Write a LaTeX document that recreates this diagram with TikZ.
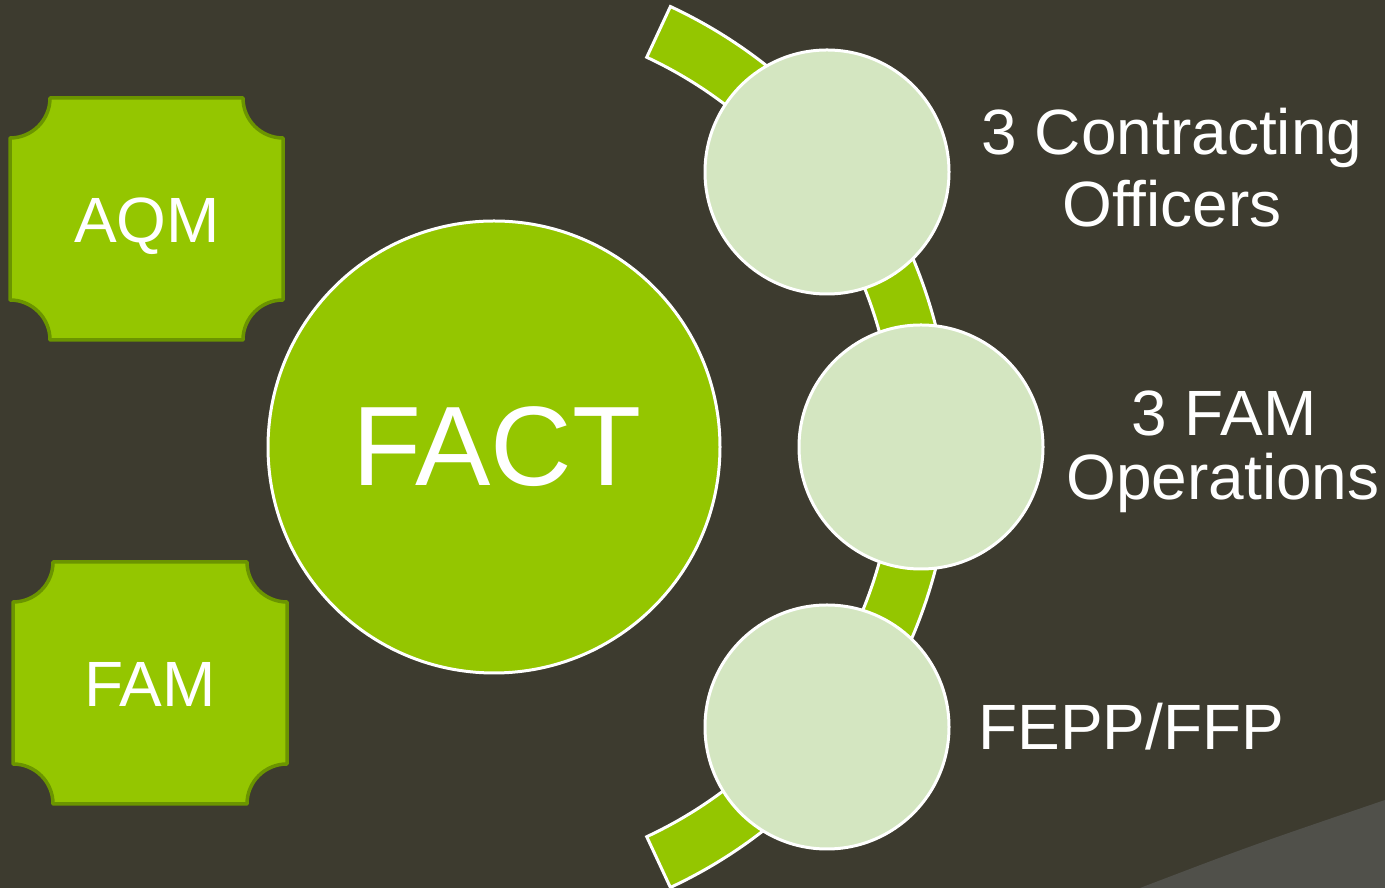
\documentclass[tikz,border=0pt]{standalone}
\usepackage{fontspec}
\setmainfont{Liberation Sans}
\definecolor{bgc}{HTML}{3D3B2F}
\definecolor{bgl}{HTML}{50504A}
\definecolor{grn}{HTML}{94C600}
\definecolor{grnd}{HTML}{6B9400}
\definecolor{lgt}{HTML}{D4E6C1}
\newcommand\plaque[5]{% x0 x1 Ybot Ytop r
  \fill[grn,draw=grnd,line width=3.5pt,line join=round]
    ({#1+#5},#4) -- ({#2-#5},#4)
    arc[start angle=180,end angle=270,radius=#5pt] -- (#2,{#3+#5})
    arc[start angle=90,end angle=180,radius=#5pt] -- ({#1+#5},#3)
    arc[start angle=0,end angle=90,radius=#5pt] -- (#1,{#4-#5})
    arc[start angle=270,end angle=360,radius=#5pt] -- cycle;}
\tikzset{
  lbl/.style={text=white,inner sep=0pt,anchor=base},
  bubble/.style={circle,fill=lgt,draw=white,line width=3pt,minimum size=244pt,inner sep=0pt},
}
\begin{document}
\begin{tikzpicture}[x=1pt,y=1pt]
\fill[bgc] (0,0) rectangle (1385,888);
\useasboundingbox (0,0) rectangle (1385,888);
\fill[bgl] (1140,0) .. controls (1250,42) .. (1385,88) -- (1385,0) -- cycle;
% plaques
\plaque{10}{283}{548}{790}{40}
\plaque{13}{287}{84}{326}{40}
\node[lbl,font=\fontsize{64}{64}\selectfont] (aqm) at (147,645) {AQM};
\node[lbl,font=\fontsize{64}{64}\selectfont] (fam) at (150,181) {FAM};
% big circle
\node[circle,fill=grn,draw=white,line width=3pt,minimum size=452pt,inner sep=0pt] (fact) at (494,441) {};
\node[lbl,font=\fontsize{113}{113}\selectfont] (facttxt) at (497,402) {FACT};
% band
\coordinate (c) at (465,441);
\fill[grn,draw=white,line width=3pt]
  ([shift={(65:486pt)}]c) arc[start angle=65,end angle=-65,radius=486pt]
  -- ([shift={(-65:430pt)}]c) arc[start angle=-65,end angle=65,radius=430pt] -- cycle;
% bubbles
\node[bubble] (b1) at (827,716) {};
\node[bubble] (b2) at (921,441) {};
\node[bubble] (b3) at (827,161) {};
% labels
\node[lbl,font=\fontsize{64}{64}\selectfont] (t1a) at (1172,733) {3 Contracting};
\node[lbl,font=\fontsize{64}{64}\selectfont] (t1b) at (1172,661) {Officers};
\node[lbl,font=\fontsize{64}{64}\selectfont] (t2a) at (1224,452) {3 FAM};
\node[lbl,font=\fontsize{64}{64}\selectfont] (t2b) at (1223,388) {Operations};
\node[lbl,font=\fontsize{64}{64}\selectfont,anchor=base west] (t3) at (978,138) {FEPP/FFP};
\end{tikzpicture}
\end{document}
